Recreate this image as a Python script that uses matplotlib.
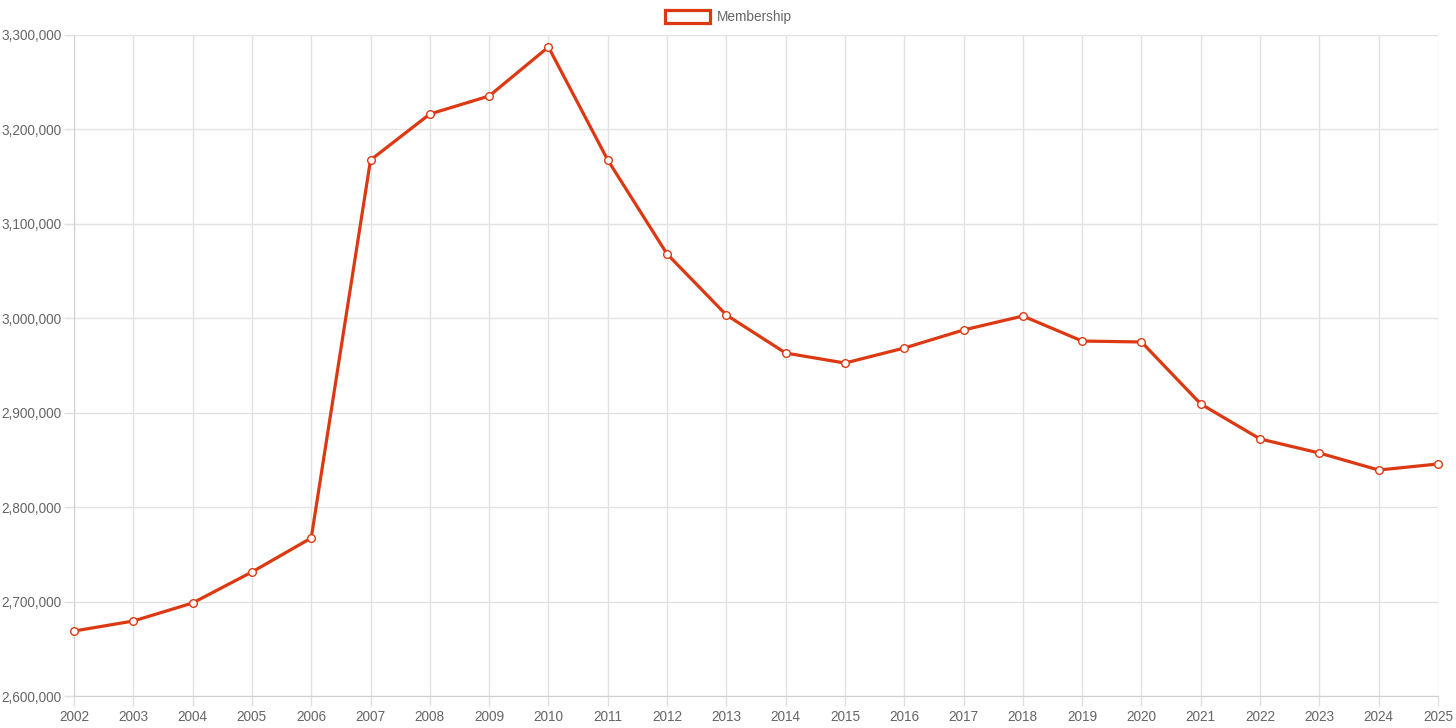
import matplotlib.pyplot as plt
from matplotlib.ticker import FuncFormatter
from matplotlib.patches import Rectangle

years = list(range(2002, 2026))
membership = [2668800, 2679400, 2698500, 2731300, 2767300, 3167600, 3216300, 3235400,
              3287300, 3167600, 3068100, 3003500, 2963200, 2952600, 2968500, 2987600,
              3002400, 2975900, 2974900, 2909200, 2872200, 2857300, 2839300, 2845700]
series_name = 'Membership'

red = '#dc3912'
grey = '#666666'
plt.rcParams['font.family'] = ['Liberation Sans', 'DejaVu Sans']

fig = plt.figure(figsize=(14.56, 7.28), dpi=100)
ax = fig.add_axes([74 / 1456, 1 - 696 / 728, (1438 - 74) / 1456, (696 - 35) / 728])

ax.plot(years, membership, color=red, lw=2.3, marker='o', ms=5.5,
        mfc='white', mec=red, mew=1, zorder=3, clip_on=False)

ax.set_xlim(2002, 2025)
ax.set_ylim(2600000, 3300000)
ax.set_xticks(years)
ax.set_yticks(range(2600000, 3300001, 100000))
ax.yaxis.set_major_formatter(FuncFormatter(lambda v, p: f'{int(v):,}'))
ax.grid(True, color='#e2e2e2', lw=1)
ax.set_axisbelow(True)
for s in ['top', 'right']:
    ax.spines[s].set_visible(False)
for s in ['left', 'bottom']:
    ax.spines[s].set_color('#d0d0d0')
ax.tick_params(colors=grey, labelsize=9.8, length=7, width=1, pad=2)
ax.tick_params(axis='x', pad=3)
ax.tick_params(axis='both', color='#e0e0e0')

# legend drawn like the chart's header box
fig.patches.append(Rectangle((665 / 1456, 1 - 23 / 728), 45 / 1456, 13 / 728,
                             transform=fig.transFigure, facecolor='white',
                             edgecolor=red, lw=2.3))
fig.text(717 / 1456, 1 - 17 / 728, series_name, color=grey, fontsize=9.8,
         va='center', ha='left')

fig.savefig('out.png', dpi=100)
